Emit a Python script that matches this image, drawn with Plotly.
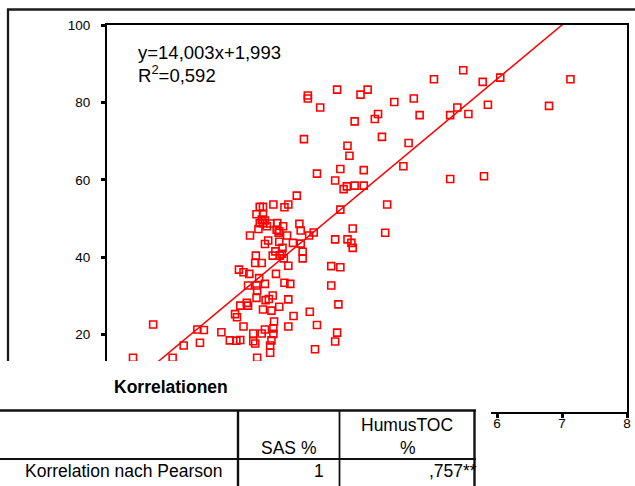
import plotly.graph_objects as go

# ---------------- data ----------------
humus_toc = [5.48, 5.03, 5.78, 6.05, 7.13, 3.54, 3.90, 4.01, 3.09, 3.09,
             3.28, 4.42, 4.72, 5.39, 5.86, 6.80, 3.81, 4.17, 4.12, 4.81,
             5.28, 5.56, 3.03, 4.23, 3.70, 3.73, 4.64, 4.56, 3.23, 3.59,
             3.95, 3.51, 3.64, 3.69, 3.81, 3.95, 5.28, 5.80, 2.92, 4.31,
             3.59, 3.78, 4.28, 3.18, 3.11, 2.96, 2.98, 2.98, 3.51, 3.70,
             3.76, 3.78, 3.01, 3.01, 3.45, 3.59, 3.45, 3.56, 3.12, 3.23,
             3.54, 3.51, 3.20, 2.60, 2.73, 2.82, 2.55, 2.49, 2.79, 2.65,
             2.53, 2.87, 2.57, 2.79, 2.56, 2.56, 2.53, 2.51, 2.51, 2.35,
             2.40, 2.56, 2.79, 2.73, 2.30, 2.40, 2.38, 2.43, 2.35, 2.40,
             2.51, 2.62, 2.33, 2.46, 2.71, 2.61, 2.65, 2.64, 2.77, 2.20,
             2.48, 2.43, 2.65, 2.86, 2.70, 2.59, 2.55, 2.69, 2.72, 2.66,
             2.29, 2.28, 2.38, 2.79, 2.03, 2.10, 2.19, 2.34, 2.17, 2.30,
             2.43, 2.31, 2.30, 2.44,
             2.15, 2.17, 2.05, 2.40, 1.97, 2.00, 0.71, 2.10, 1.39, 1.49,
             1.76, 2.25, 2.38, 2.43, 1.43, 1.18, 1.89, 1.99, 2.05, 2.25, 2.28,
             0.40, 1.01, 2.31]

sas = [88.3, 86.0, 85.3, 86.4, 86.0, 83.3, 82.0, 83.3, 81.8, 81.0,
       78.7, 80.1, 81.0, 78.7, 79.4, 79.1, 75.1, 77.0, 75.7, 76.7,
       76.7, 77.0, 70.5, 71.1, 68.8, 66.2, 69.5, 63.5, 61.6, 62.8,
       62.5, 59.8, 57.6, 58.3, 58.5, 58.5, 60.2, 60.9, 55.9, 53.6,
       52.3, 47.4, 46.3, 46.4, 45.6, 48.6, 46.9, 43.5, 44.6, 44.6,
       43.7, 42.4, 41.4, 39.7, 37.7, 37.4, 32.7, 27.8, 25.9, 22.5,
       20.5, 18.2, 16.2, 35.7, 33.4, 33.1, 30.1, 29.2, 29.1, 27.2,
       26.2, 24.8, 23.4, 22.1, 21.6, 20.2, 18.5, 17.2, 15.3, 53.0,
       53.0, 53.6, 53.6, 52.9, 51.1, 51.1, 49.7, 49.5, 48.8, 48.8,
       48.7, 48.8, 47.3, 48.0, 48.0, 47.1, 46.7, 46.3, 45.6, 45.6,
       44.3, 43.4, 44.0, 43.7, 42.4, 41.5, 40.4, 40.9, 39.7, 40.4,
       40.4, 38.5, 38.5, 37.8, 36.8, 36.1, 35.7, 34.6, 32.7, 32.7,
       33.1, 31.4, 29.5, 28.9,
       28.2, 27.5, 27.5, 26.5, 25.3, 24.5, 22.6, 22.1, 21.3, 21.2,
       20.6, 20.3, 20.3, 21.3, 17.9, 17.2, 18.5, 18.4, 18.6, 18.3, 17.7,
       14.0, 14.0, 14.0]

fit_slope = 14.003
fit_intercept = 1.993
fit_x = [0, 8]
fit_y = [fit_slope * v + fit_intercept for v in fit_x]

# tick labels 0-5 of the x axis are hidden behind the table output in the picture
x_ticks = [0, 1, 2, 3, 4, 5, 6, 7, 8]
x_tick_labels = ["", "", "", "", "", "", "6", "7", "8"]
y_ticks = [20, 40, 60, 80, 100]
y_tick_labels = ["20", "40", "60", "80", "100"]

eq_text = "y=14,003x+1,993"
r2_text = "R<sup>2</sup>=0,592"

table_title = "Korrelationen"
table_header = ["SAS %", "HumusTOC", "%"]
table_row = ["Korrelation nach Pearson", "1", ",757**"]

# ---------------- geometry helpers ----------------
W, H = 635, 486
L, R, T, B = 107, 8, 25, 74
PW, PH = W - L - R, H - T - B


def px(x):
    return (x - L) / PW


def py(y):
    return (H - B - y) / PH


FONT = "Liberation Sans, Arial, sans-serif"
RED = "#ff0000"

fig = go.Figure()
fig.add_trace(go.Scatter(
    x=humus_toc, y=sas, mode="markers",
    marker=dict(symbol="square-open", size=7, color=RED,
                line=dict(color=RED, width=1.6)),
    showlegend=False, hoverinfo="skip"))
fig.add_trace(go.Scatter(
    x=fit_x, y=fit_y, mode="lines",
    line=dict(color=RED, width=1.5),
    showlegend=False, hoverinfo="skip"))

axis_common = dict(showline=True, linecolor="black", linewidth=2, mirror=True,
                   ticks="outside", ticklen=4, tickwidth=2.5, tickcolor="black",
                   showgrid=False, zeroline=False,
                   tickfont=dict(family=FONT, size=13.5, color="black"))
fig.update_xaxes(range=[0, 8], tickvals=x_ticks, ticktext=x_tick_labels,
                 ticklabelstandoff=-6, **axis_common)
fig.update_yaxes(range=[0, 100], tickvals=y_ticks, ticktext=y_tick_labels,
                 ticklabelstandoff=8, **axis_common)

shapes = []
# outer frame
shapes.append(dict(type="rect", xref="paper", yref="paper",
                   x0=px(8), x1=px(720), y0=py(620), y1=py(9.5),
                   line=dict(color="#1a1a1a", width=2.3), fillcolor="rgba(0,0,0,0)",
                   layer="below"))
# white overlay of the table output
shapes.append(dict(type="rect", xref="paper", yref="paper",
                   x0=px(-20), x1=px(491), y0=py(620), y1=py(361),
                   line=dict(width=0), fillcolor="white", layer="above"))
# table lines
line_c = "#111111"
shapes.append(dict(type="line", xref="paper", yref="paper",
                   x0=px(0), x1=px(476), y0=py(410.5), y1=py(410.5),
                   line=dict(color=line_c, width=2.5), layer="above"))
shapes.append(dict(type="line", xref="paper", yref="paper",
                   x0=px(0), x1=px(476), y0=py(459), y1=py(459),
                   line=dict(color=line_c, width=1.8), layer="above"))
for xv, wv in [(238, 2.4), (339.5, 1.8), (474.5, 2.4)]:
    shapes.append(dict(type="line", xref="paper", yref="paper",
                       x0=px(xv), x1=px(xv), y0=py(410), y1=py(620),
                       line=dict(color=line_c, width=wv), layer="above"))

annotations = []
annotations.append(dict(text=eq_text, xref="paper", yref="paper",
                        x=px(135.5), y=py(52.5), xanchor="left", yanchor="middle",
                        showarrow=False, font=dict(family=FONT, size=18.5, color="black")))
annotations.append(dict(text=r2_text, xref="paper", yref="paper",
                        x=px(135.5), y=py(73.5), xanchor="left", yanchor="middle",
                        showarrow=False, font=dict(family=FONT, size=18.5, color="black")))
annotations.append(dict(text="<b>" + table_title + "</b>", xref="paper", yref="paper",
                        x=px(170.5), y=py(386.5), xanchor="center", yanchor="middle",
                        showarrow=False, font=dict(family=FONT, size=17.5, color="black")))
tfont = dict(family=FONT, size=17.5, color="black")
annotations.append(dict(text=table_header[0], xref="paper", yref="paper",
                        x=px(288.5), y=py(448), xanchor="center", yanchor="middle",
                        showarrow=False, font=tfont))
annotations.append(dict(text=table_header[1], xref="paper", yref="paper",
                        x=px(407), y=py(425), xanchor="center", yanchor="middle",
                        showarrow=False, font=tfont))
annotations.append(dict(text=table_header[2], xref="paper", yref="paper",
                        x=px(407.5), y=py(448), xanchor="center", yanchor="middle",
                        showarrow=False, font=tfont))
annotations.append(dict(text=table_row[0], xref="paper", yref="paper",
                        x=px(224), y=py(471), xanchor="right", yanchor="middle",
                        showarrow=False, font=tfont))
annotations.append(dict(text=table_row[1], xref="paper", yref="paper",
                        x=px(326), y=py(471), xanchor="right", yanchor="middle",
                        showarrow=False, font=tfont))
annotations.append(dict(text=table_row[2], xref="paper", yref="paper",
                        x=px(479), y=py(471), xanchor="right", yanchor="middle",
                        showarrow=False, font=tfont))

fig.update_layout(
    width=W, height=H,
    margin=dict(l=L, r=R, t=T, b=B, autoexpand=False),
    paper_bgcolor="white", plot_bgcolor="white",
    shapes=shapes, annotations=annotations,
    showlegend=False,
)

fig.write_html("out.html")
